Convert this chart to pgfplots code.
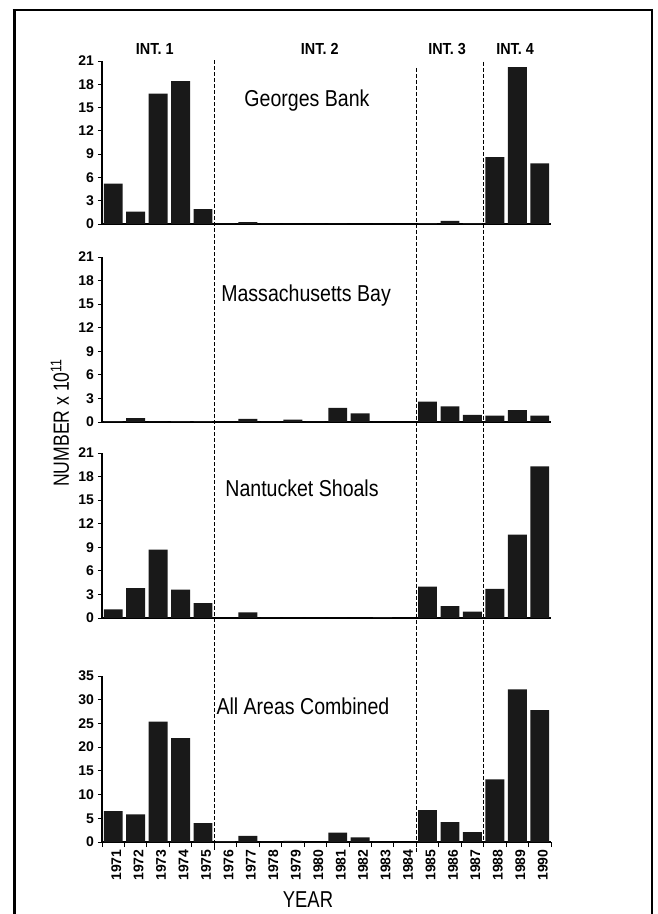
\documentclass[border=0pt]{standalone}
\usepackage{fontspec}
\setmainfont{Liberation Sans}
\usepackage{graphicx}
\usepackage{pgfplots}
\usepackage{pgfplotstable}
\pgfplotsset{compat=1.18}

% numbers x 10^11 by year
\pgfplotstableread{
idx year gb   mb   ns   all
0  1971 5.2  0.1  1.1  6.5
1  1972 1.6  0.5  3.8  5.8
2  1973 16.8 0.05 8.7  25.4
3  1974 18.4 0.1  3.6  21.9
4  1975 1.9  0.1  1.9  4.0
5  1976 0.05 0.0  0.0  0.2
6  1977 0.25 0.4  0.7  1.3
7  1978 0.05 0.05 0.05 0.1
8  1979 0.0  0.3  0.0  0.25
9  1980 0.0  0.05 0.0  0.05
10 1981 0.05 1.8  0.0  2.0
11 1982 0.0  1.1  0.0  1.0
12 1983 0.0  0.0  0.1  0.1
13 1984 0.0  0.0  0.0  0.05
14 1985 0.1  2.6  4.0  6.7
15 1986 0.4  2.0  1.5  4.2
16 1987 0.1  0.9  0.8  2.1
17 1988 8.6  0.8  3.7  13.2
18 1989 20.2 1.5  10.6 32.2
19 1990 7.8  0.8  19.3 27.8
}\data

\newcommand{\ttl}[1]{\scalebox{0.85}[1]{\fontsize{23}{23}\selectfont #1}}
\newcommand{\intl}[1]{\scalebox{0.9}[1]{\bfseries\fontsize{16}{16}\selectfont #1}}

\pgfplotsset{
  panel/.style={
    scale only axis, width=449pt, anchor=south west,
    xmin=-0.5, xmax=19.5, ymin=0, enlargelimits=false,
    axis x line*=bottom, axis y line*=left,
    axis line style={line width=1.1pt},
    ybar, bar width=0.84,
    tick align=outside, major tick length=4pt, minor tick length=5pt,
    every tick/.style={black, line width=0.9pt},
    xtick=\empty,
    minor xtick={-0.5,0.5,...,19.5},
    /pgf/number format/assume math mode=true,
    yticklabel style={font=\bfseries\fontsize{14}{14}\selectfont, xshift=-0.5pt},
    clip=false,
  },
  barstyle/.style={fill=black!90, draw=none},
}

\begin{document}
\begin{tikzpicture}
\path[use as bounding box] (0pt,0pt) rectangle (658pt,914pt);

% Georges Bank
\begin{axis}[panel, at={(102pt,690pt)}, height=163pt, ymax=21, ytick={0,3,...,21}]
\addplot[barstyle] table[x=idx, y=gb] {\data};
\node[anchor=base] at (axis cs:8.63,15.1) {\ttl{Georges Bank}};
\node at (axis cs:1.85,22.55) {\intl{INT. 1}};
\node at (axis cs:9.2,22.55) {\intl{INT. 2}};
\node at (axis cs:14.87,22.55) {\intl{INT. 3}};
\node at (axis cs:17.9,22.55) {\intl{INT. 4}};
\coordinate (t1) at (axis cs:4.5,21.1);
\coordinate (t2) at (axis cs:13.5,20.1);
\coordinate (t3) at (axis cs:16.5,20.9);
\end{axis}

% Massachusetts Bay
\begin{axis}[panel, at={(102pt,492pt)}, height=165pt, ymax=21, ytick={0,3,...,21}]
\addplot[barstyle] table[x=idx, y=mb] {\data};
\node[anchor=base] at (axis cs:8.59,15.3) {\ttl{Massachusetts Bay}};
\end{axis}

% Nantucket Shoals
\begin{axis}[panel, at={(102pt,296pt)}, height=165pt, ymax=21, ytick={0,3,...,21}]
\addplot[barstyle] table[x=idx, y=ns] {\data};
\node[anchor=base] at (axis cs:8.41,15.4) {\ttl{Nantucket Shoals}};
\end{axis}

% All areas combined
\begin{axis}[panel, at={(102pt,72pt)}, height=166pt, ymax=35, ytick={0,5,...,35},
  xtick={0,...,19}, xticklabels from table={\data}{year},
  major x tick style={draw=none},
  xticklabel style={rotate=90, anchor=east, font=\bfseries\fontsize{14}{14}\selectfont, yshift=-3pt}]
\addplot[barstyle] table[x=idx, y=all] {\data};
\node[anchor=base] at (axis cs:8.45,26.8) {\ttl{All Areas Combined}};
\coordinate (b1) at (axis cs:4.5,-1.9);
\coordinate (b2) at (axis cs:13.5,-2.3);
\coordinate (b3) at (axis cs:16.5,-1.1);
\end{axis}

\foreach \i in {1,2,3}{
  \draw[line width=0.7pt, dash pattern=on 4pt off 2pt] (t\i) -- (b\i);
}

\node[rotate=90] at (60pt,491pt) {\scalebox{0.8}[1]{\fontsize{22}{22}\selectfont NUMBER x 10\textsuperscript{11}}};
\node at (308pt,14pt) {\scalebox{0.8}[1]{\fontsize{23}{23}\selectfont YEAR}};

\draw[line width=3pt] (14pt,0pt) -- (14pt,904pt);
\draw[line width=2.5pt] (12.5pt,904pt) -- (652pt,904pt);
\draw[line width=2pt] (652pt,905pt) -- (652pt,0pt);
\end{tikzpicture}
\end{document}
